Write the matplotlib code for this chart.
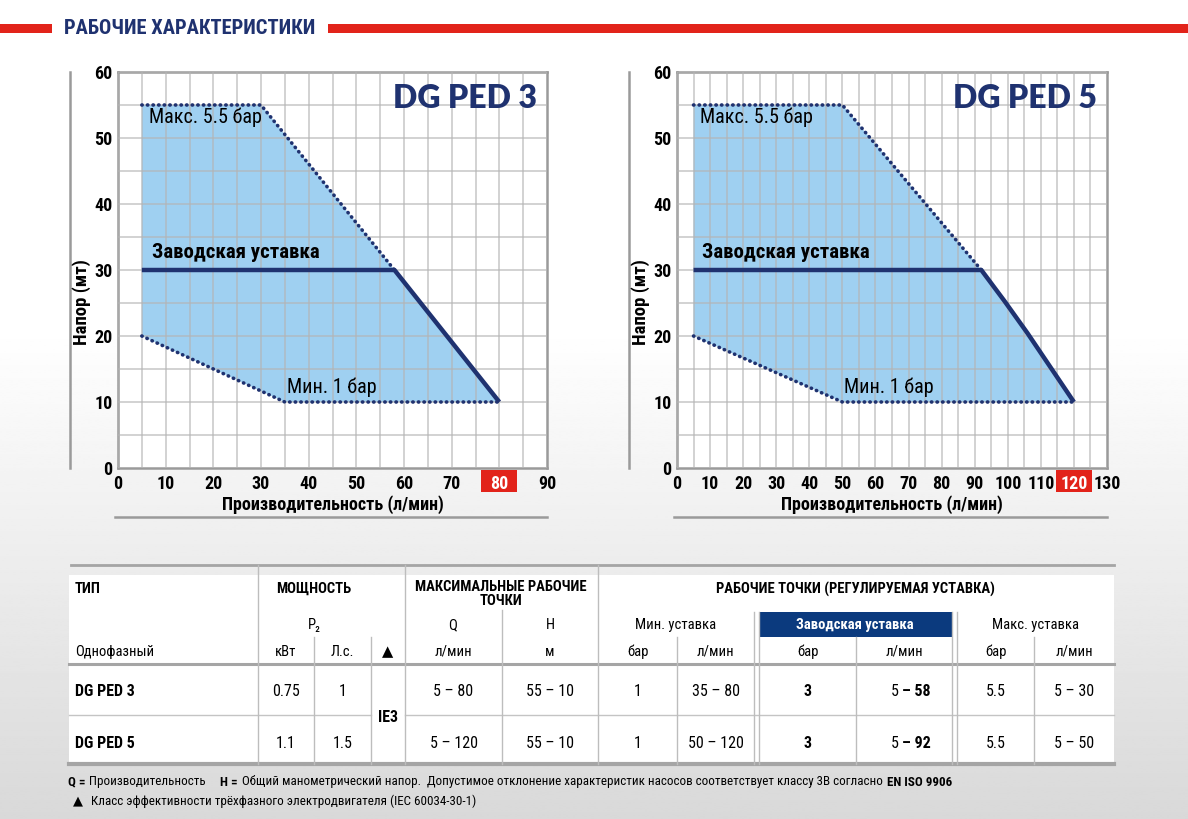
import matplotlib
matplotlib.use('Agg')
import matplotlib.pyplot as plt
from matplotlib import font_manager
from matplotlib.patches import Rectangle
from matplotlib.ticker import MultipleLocator
import numpy as np

# --- curve data (Q л/мин, H м) ---
ped3_max_q = [5, 30, 58]
ped3_max_h = [55, 55, 30]
ped3_set_q = [5, 58, 80]
ped3_set_h = [30, 30, 10]
ped3_min_q = [5, 35, 80]
ped3_min_h = [20, 10, 10]

ped5_max_q = [5, 50, 92]
ped5_max_h = [55, 55, 30]
ped5_set_q = [5, 92, 99, 106, 113, 120]
ped5_set_h = [30, 30, 25.3, 20.4, 15.2, 10]
ped5_min_q = [5, 50, 120]
ped5_min_h = [20, 10, 10]

# --- table data ---
models = ['DG PED 3', 'DG PED 5']
power_kw = ['0.75', '1.1']
power_hp = ['1', '1.5']
ie_class = 'IE3'
max_q = ['5 – 80', '5 – 120']
max_h = ['55 – 10', '55 – 10']
min_bar = ['1', '1']
min_q = ['35 – 80', '50 – 120']
fac_bar = ['3', '3']
fac_q_lo = ['5', '5']
fac_q_hi = ['58', '92']
maxset_bar = ['5.5', '5.5']
maxset_q = ['5 – 30', '5 – 50']

NAVY = '#1f3270'
RED = '#e2231a'
BLUE_FILL = '#9fd0f1'

names = {f.name for f in font_manager.fontManager.ttflist}
NARROW = next((n for n in ['Liberation Sans Narrow', 'Roboto Condensed', 'Noto Sans Condensed',
                           'Open Sans Condensed', 'Roboto'] if n in names), 'DejaVu Sans')
TITLE_FONT = 'Lato' if 'Lato' in names else 'DejaVu Sans'
plt.rcParams['font.family'] = [NARROW, 'DejaVu Sans']

W, H = 1188, 819
fig = plt.figure(figsize=(W / 100, H / 100), dpi=100)

# background gradient
bg = fig.add_axes([0, 0, 1, 1], zorder=-10)
ys = np.linspace(0, 1, 400)
shade = np.clip((ys - 0.40) / 0.60, 0, 1)
grad = 1 - 0.15 * shade
bg.imshow(np.repeat(grad[:, None], 2, axis=1), cmap='gray', vmin=0, vmax=1,
          aspect='auto', extent=[0, 1, 0, 1], origin='upper')
bg.axis('off')

# overlay in pixel coordinates (y down)
ov = fig.add_axes([0, 0, 1, 1], zorder=-5)
ov.set_xlim(0, W)
ov.set_ylim(H, 0)
ov.axis('off')

# header band
ov.add_patch(Rectangle((0, 24), 52, 9, color=RED, lw=0))
ov.add_patch(Rectangle((328, 24), W - 328, 9, color=RED, lw=0))
ov.text(64, 28.5, 'РАБОЧИЕ ХАРАКТЕРИСТИКИ', color=NAVY, fontsize=14.8,
        fontweight='bold', ha='left', va='center')


def px_rect(left, top, right, bottom):
    return [left / W, 1 - bottom / H, (right - left) / W, (bottom - top) / H]


def draw_chart(rect, xmax, mq, mh, sq, sh, nq, nh, name, hi, lab_x, min_x):
    ax = fig.add_axes(px_rect(*rect))
    ax.set_xlim(0, xmax)
    ax.set_ylim(0, 60)
    ax.set_facecolor('white')
    poly_q = mq + sq[2:] + nq[::-1]
    poly_h = mh + sh[2:] + nh[::-1]
    ax.fill(poly_q, poly_h, color=BLUE_FILL, lw=0, zorder=1)
    ax.set_axisbelow(False)
    ax.xaxis.set_major_locator(MultipleLocator(10))
    ax.xaxis.set_minor_locator(MultipleLocator(5))
    ax.yaxis.set_major_locator(MultipleLocator(10))
    ax.yaxis.set_minor_locator(MultipleLocator(5))
    ax.grid(which='both', color='#b4b4b4', lw=1.1, alpha=0.75)
    dot = dict(color=NAVY, lw=2.6, ls=(0, (0.1, 1.45)), dash_capstyle='round', zorder=4)
    ax.plot(mq, mh, **dot)
    ax.plot(nq, nh, **dot)
    ax.plot(sq, sh, color=NAVY, lw=3.2, solid_capstyle='butt', solid_joinstyle='round', zorder=5)
    for s in ax.spines.values():
        s.set_color('#9a9a9a')
        s.set_linewidth(1.8)
    ax.tick_params(which='both', length=0, labelsize=13, pad=5, colors='black')
    ax.set_xticks(range(0, xmax + 1, 10))
    ax.set_xticklabels([str(v) for v in range(0, xmax + 1, 10)], fontweight='bold')
    ax.set_yticks(range(0, 61, 10))
    ax.set_yticklabels([str(v) for v in range(0, 61, 10)], fontweight='bold')
    ax.tick_params(axis='y', pad=4)
    for lbl in ax.get_xticklabels():
        if lbl.get_text() == str(hi):
            lbl.set_color('white')
            lbl.set_zorder(10)
    xc = ax.transData.transform((hi, 0))[0]
    ov.add_patch(Rectangle((xc - 18, 470), 36, 22, color=RED, lw=0))
    ax.set_xlabel('Производительность (л/мин)', fontsize=13, fontweight='bold')
    ax.xaxis.set_label_coords(0.5, -0.068)
    ax.set_ylabel('Напор (мт)', fontsize=13.5, fontweight='bold')
    ax.yaxis.set_label_coords(-27 / (rect[2] - rect[0]), 0.42)
    ax.text(0.977, 0.934, name, transform=ax.transAxes, ha='right', va='center',
            fontsize=23, fontweight='heavy', color=NAVY, family=TITLE_FONT)
    ax.text(lab_x, 53.2, 'Макс. 5.5 бар', fontsize=14.5, ha='left', va='center', zorder=6)
    ax.text(lab_x + 0.6, 32.6, 'Заводская уставка', fontsize=15, fontweight='bold',
            ha='left', va='center', zorder=6)
    ax.text(min_x, 12.2, 'Мин. 1 бар', fontsize=14.5, ha='left', va='center', zorder=6)
    # decorative frame lines
    left, top, right, bottom = rect
    ov.plot([left - 48, left - 48], [top, bottom], color='#9a9a9a', lw=1.8)
    ov.plot([left - 3, right], [517, 517], color='#9a9a9a', lw=1.8)
    return ax


draw_chart((118, 72, 547, 468), 90, ped3_max_q, ped3_max_h, ped3_set_q, ped3_set_h,
           ped3_min_q, ped3_min_h, 'DG PED 3', 80, 6.5, 35.4)
draw_chart((677, 72, 1107, 468), 130, ped5_max_q, ped5_max_h, ped5_set_q, ped5_set_h,
           ped5_min_q, ped5_min_h, 'DG PED 5', 120, 7.0, 50.6)

# --- table ---
T_LEFT, T_RIGHT = 69, 1114
ov.add_patch(Rectangle((T_LEFT, 575), T_RIGHT - T_LEFT, 189, color='white', lw=0))
ov.plot([71, T_RIGHT], [565, 565], color='#a5a5a5', lw=2)
ov.plot([T_LEFT, T_RIGHT], [664, 664], color='#a5a5a5', lw=2.2)
ov.plot([T_LEFT, T_RIGHT], [764, 764], color='#a5a5a5', lw=3)
ov.plot([T_LEFT, 371], [715, 715], color='#c4c4c4', lw=1)
ov.plot([405, T_RIGHT], [715, 715], color='#c4c4c4', lw=1)

dividers = [(258, 565), (314, 637), (371, 637), (405, 565), (502, 610), (598, 565),
            (677, 637), (754, 612), (759, 612), (856, 637), (952, 612), (957, 612), (1034, 637)]
for x, y0 in dividers:
    ov.plot([x, x], [y0, 764], color='#bdbdbd', lw=1)

ov.add_patch(Rectangle((759, 612), 193, 25, color='#0b3a7e', lw=0))

hb = dict(fontsize=10.5, fontweight='bold', va='center')
ov.text(75, 589, 'ТИП', ha='left', **hb)
ov.text(314, 589, 'МОЩНОСТЬ', ha='center', **hb)
ov.text(501, 587, 'МАКСИМАЛЬНЫЕ РАБОЧИЕ', ha='center', **hb)
ov.text(501, 601, 'ТОЧКИ', ha='center', **hb)
ov.text(855, 589, 'РАБОЧИЕ ТОЧКИ (РЕГУЛИРУЕМАЯ УСТАВКА)', ha='center', **hb)

nb = dict(fontsize=10.5, va='center', ha='center')
ov.text(314, 625, 'P₂', **nb)
ov.text(453, 625, 'Q', **nb)
ov.text(550, 625, 'H', **nb)
ov.text(676, 625, 'Мин. уставка', **nb)
ov.text(855, 625, 'Заводская уставка', color='white', fontweight='bold', **nb)
ov.text(1035, 625, 'Макс. уставка', **nb)

col_left = [258, 314, 371, 405, 502, 598, 677, 759, 856, 957, 1034]
col_right = [314, 371, 405, 502, 598, 677, 754, 856, 952, 1034, 1114]
centers = [(a + b) / 2 for a, b in zip(col_left, col_right)]
units = ['кВт', 'Л.с.', '▲', 'л/мин', 'м', 'бар', 'л/мин', 'бар', 'л/мин', 'бар', 'л/мин']
ov.text(75, 652, 'Однофазный', ha='left', fontsize=10.5, va='center')
for cx, u in zip(centers, units):
    ov.text(cx, 652, u, **nb)

vb = dict(fontsize=11.5, va='center', ha='center')
for i, y in enumerate([692, 743]):
    ov.text(75, y, models[i], ha='left', fontsize=11.5, fontweight='bold', va='center')
    ov.text(centers[0], y, power_kw[i], **vb)
    ov.text(centers[1], y, power_hp[i], **vb)
    ov.text(centers[3], y, max_q[i], **vb)
    ov.text(centers[4], y, max_h[i], **vb)
    ov.text(centers[5], y, min_bar[i], **vb)
    ov.text(centers[6], y, min_q[i], **vb)
    ov.text(centers[7], y, fac_bar[i], fontweight='bold', **vb)
    ov.text(centers[8] - 5, y, fac_q_lo[i], fontsize=11.5, va='center', ha='right')
    ov.text(centers[8] - 2, y, '– ' + fac_q_hi[i], fontsize=11.5, fontweight='bold',
            va='center', ha='left')
    ov.text(centers[9], y, maxset_bar[i], **vb)
    ov.text(centers[10], y, maxset_q[i], **vb)
ov.text(centers[2], 717, ie_class, fontsize=11.5, fontweight='bold', va='center', ha='center')

# footnotes
renderer = fig.canvas.get_renderer()


def runs(x, y, parts, size=9.35):
    for txt, weight, gap in parts:
        t = ov.text(x, y, txt, fontsize=size, fontweight=weight, ha='left', va='center')
        x += t.get_window_extent(renderer=renderer).width + gap


runs(68, 782, [('Q =', 'bold', 4), ('Производительность', 'normal', 14),
               ('H =', 'bold', 4),
               ('Общий манометрический напор.  Допустимое отклонение характеристик насосов '
                'соответствует классу 3В согласно', 'normal', 4),
               ('EN ISO 9906', 'bold', 0)])
runs(73, 801, [('▲', 'normal', 8),
               ('Класс эффективности трёхфазного электродвигателя (IEC 60034-30-1)', 'normal', 0)])

fig.savefig('out.png', dpi=100)
